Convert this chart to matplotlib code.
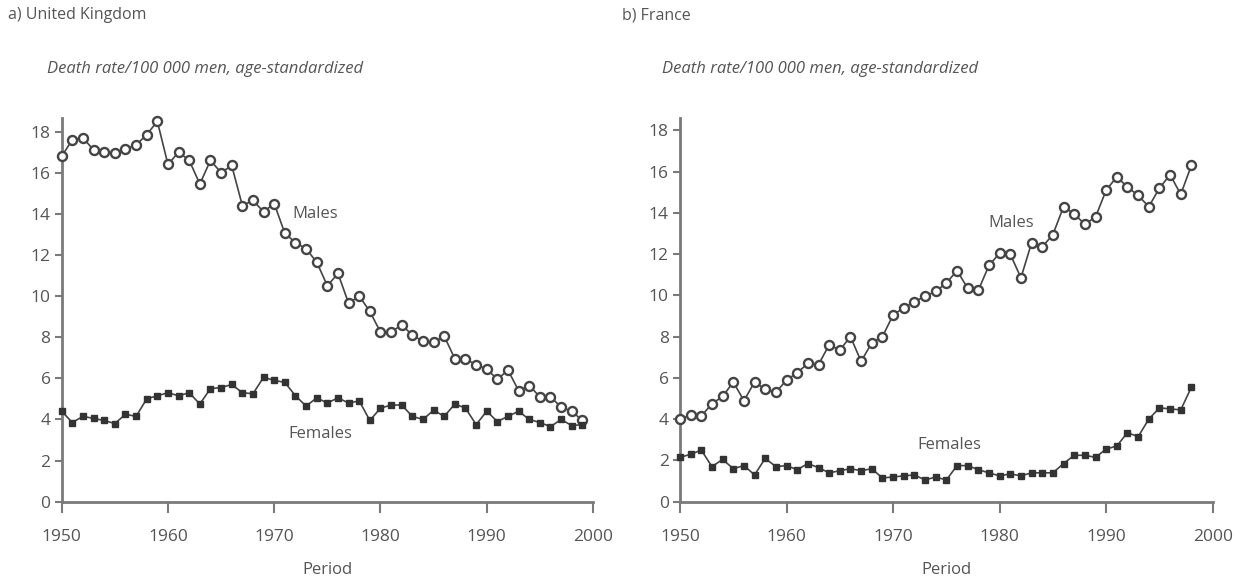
import numpy as np
import matplotlib
matplotlib.use('Agg')
import matplotlib.pyplot as plt

plt.rcParams['font.family'] = ['Open Sans', 'DejaVu Sans']

# UK, 1950-1999
uk_years = list(range(1950, 2000))
uk_males = [16.8, 17.6, 17.7, 17.1, 17.0, 16.95, 17.15, 17.35, 17.85, 18.5,
            16.4, 17.0, 16.6, 15.45, 16.6, 16.0, 16.35, 14.4, 14.65, 14.1,
            14.5, 13.05, 12.6, 12.3, 11.65, 10.5, 11.1, 9.65, 10.0, 9.25,
            8.25, 8.25, 8.6, 8.1, 7.8, 7.75, 8.05, 6.95, 6.95, 6.65,
            6.45, 5.95, 6.4, 5.4, 5.65, 5.1, 5.1, 4.6, 4.4, 3.95]
uk_females = [4.4, 3.85, 4.15, 4.05, 3.95, 3.8, 4.25, 4.15, 5.0, 5.15,
              5.3, 5.15, 5.3, 4.75, 5.5, 5.55, 5.7, 5.3, 5.25, 6.05,
              5.9, 5.8, 5.15, 4.65, 5.05, 4.8, 5.05, 4.8, 4.9, 3.95,
              4.55, 4.7, 4.7, 4.15, 4.0, 4.45, 4.15, 4.75, 4.55, 3.75,
              4.4, 3.9, 4.15, 4.4, 4.0, 3.85, 3.65, 4.0, 3.7, 3.75]

# France, 1950-1998
fr_years = list(range(1950, 1999))
fr_males = [4.0, 4.2, 4.15, 4.75, 5.1, 5.8, 4.9, 5.8, 5.45, 5.3,
            5.9, 6.25, 6.7, 6.65, 7.6, 7.35, 8.0, 6.8, 7.7, 8.0,
            9.05, 9.4, 9.7, 9.95, 10.2, 10.6, 11.2, 10.35, 10.25, 11.45,
            12.05, 12.0, 10.85, 12.55, 12.35, 12.95, 14.3, 13.95, 13.45, 13.8,
            15.1, 15.75, 15.25, 14.85, 14.3, 15.2, 15.85, 14.9, 16.3]
fr_females = [2.15, 2.3, 2.5, 1.7, 2.05, 1.6, 1.75, 1.3, 2.1, 1.7,
              1.75, 1.55, 1.85, 1.65, 1.4, 1.5, 1.6, 1.5, 1.6, 1.15,
              1.2, 1.25, 1.3, 1.05, 1.2, 1.05, 1.75, 1.75, 1.55, 1.4,
              1.25, 1.35, 1.25, 1.4, 1.4, 1.4, 1.85, 2.25, 2.25, 2.15,
              2.55, 2.7, 3.35, 3.15, 4.0, 4.55, 4.5, 4.45, 5.55]

xticks = [1950, 1960, 1970, 1980, 1990, 2000]
yticks = [0, 2, 4, 6, 8, 10, 12, 14, 16, 18]

txt = '#555555'
line = '#444444'
spine = '#7a7a7a'

fig = plt.figure(figsize=(12.4, 5.82), dpi=100)
ax1 = fig.add_axes([61.7 / 1240, 80.3 / 582, 531.3 / 1240, 383.7 / 582])
ax2 = fig.add_axes([680 / 1240, 80.3 / 582, 532.7 / 1240, 383.7 / 582])


def draw(ax, years, males, females, ytop):
    ax.plot(years, males, '-', color=line, lw=1.2, marker='o', ms=6.5,
            mfc='white', mec=line, mew=1.7, zorder=3, clip_on=False)
    ax.plot(years, females, '-', color=line, lw=1.2, marker='s', ms=5,
            mfc='#333333', mec='#333333', zorder=3, clip_on=False)
    ax.set_xlim(1950, 2000)
    ax.set_ylim(0, ytop)
    ax.set_xticks(xticks)
    ax.set_yticks(yticks)
    for s in ['top', 'right']:
        ax.spines[s].set_visible(False)
    for s in ['left', 'bottom']:
        ax.spines[s].set_color(spine)
        ax.spines[s].set_linewidth(2)
    ax.tick_params(axis='x', direction='out', length=8, width=1.5, color=spine,
                   labelsize=12.5, labelcolor=txt, pad=12)
    ax.tick_params(axis='y', direction='out', length=5, width=1.5, color=spine,
                   labelsize=12.5, labelcolor=txt, pad=3)
    ax.set_xlabel('Period', fontsize=12, color=txt, labelpad=12)


draw(ax1, uk_years, uk_males, uk_females, 18.66)
draw(ax2, fr_years, fr_males, fr_females, 18.6)

ax1.text(1971.7, 14.0, 'Males', fontsize=12, color=txt, va='center')
ax1.text(1971.3, 3.3, 'Females', fontsize=12, color=txt, va='center')
ax2.text(1978.9, 13.5, 'Males', fontsize=12, color=txt, va='center')
ax2.text(1972.3, 2.75, 'Females', fontsize=12, color=txt, va='center')

fig.text(8 / 1240, 1 - 15 / 582, 'a) United Kingdom', fontsize=11.5, color=txt, va='center')
fig.text(622 / 1240, 1 - 15 / 582, 'b) France', fontsize=11.5, color=txt, va='center')
sub = 'Death rate/100 000 men, age-standardized'
fig.text(47 / 1240, 1 - 69 / 582, sub, fontsize=12, color=txt, va='center', style='italic')
fig.text(662 / 1240, 1 - 69 / 582, sub, fontsize=12, color=txt, va='center', style='italic')

fig.savefig('out.png', dpi=100)
